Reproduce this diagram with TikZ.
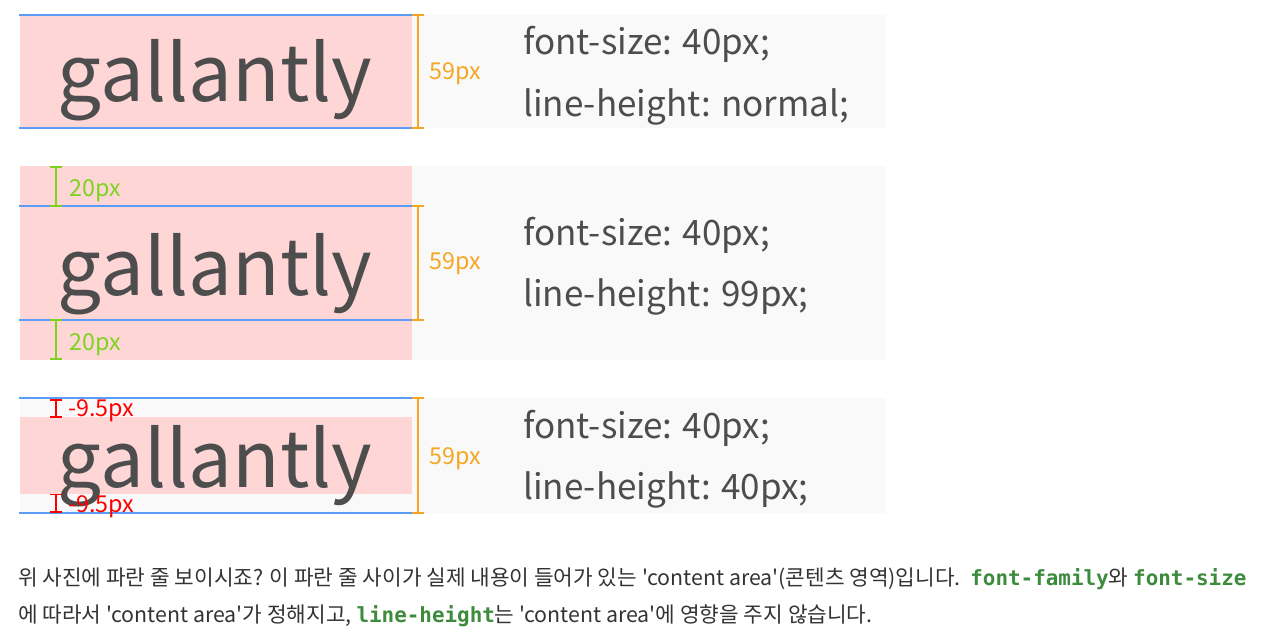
\documentclass[tikz,border=0pt]{standalone}
\usepackage{fontspec}
\newfontfamily\kr{Noto Sans CJK KR}
\newfontfamily\mono{DejaVu Sans Mono}
\definecolor{pinkbg}{HTML}{FFD6D6}
\definecolor{graybg}{HTML}{F9F9F9}
\definecolor{blueline}{HTML}{5A9CF8}
\definecolor{orangec}{HTML}{F5A623}
\definecolor{greenc}{HTML}{7ED321}
\definecolor{redc}{HTML}{FF0000}
\definecolor{txt}{HTML}{4D4D4D}
\definecolor{bodyc}{HTML}{333333}
\definecolor{codeg}{HTML}{3D8B3D}
\tikzset{
  big/.style={font=\kr\fontsize{78}{78}\selectfont, text=txt, inner sep=0pt, anchor=base west},
  css/.style={font=\kr\fontsize{35}{35}\selectfont, text=txt, inner sep=0pt, anchor=base west},
  dimlabel/.style={font=\kr\fontsize{23.3}{23.3}\selectfont, inner sep=0pt, anchor=base west},
  bodytext/.style={font=\kr\fontsize{21.35}{21.35}\selectfont, text=bodyc, inner sep=0pt, anchor=base west},
  bline/.style={draw=blueline, line width=1.5pt},
  bracket/.style={line width=1.6pt},
}
\newcommand{\cod}[1]{{\mono\fontsize{20.9}{20.9}\selectfont\bfseries\color{codeg}#1}}
\begin{document}
\begin{tikzpicture}[x=1pt,y=-1pt]
\useasboundingbox (0,0) rectangle (1262,639);
% ---------- panel 1 ----------
\fill[graybg] (412,15) rectangle (886,128);
\fill[pinkbg] (20,15) rectangle (411.5,128);
\node[big] (g1) at (57.5,101.7) {gallantly};
\draw[bline] (19,15) -- (411.5,15);
\draw[bline] (19,128) -- (411.5,128);
\draw[bracket,orangec] (412,15) -- (424,15) (418,15) -- (418,128) (412,128) -- (424,128);
\node[dimlabel,text=orangec] (o1) at (429,79.3) {59px};
\node[css] (c1a) at (523,54.5) {font-size: 40px;};
\node[css] (c1b) at (523,117) {line-height: normal;};
% ---------- panel 2 ----------
\fill[graybg] (412,166) rectangle (886,359.5);
\fill[pinkbg] (20,166) rectangle (411.5,359.5);
\node[big] (g2) at (57.5,295.5) {gallantly};
\draw[bline] (19,206) -- (411.5,206);
\draw[bline] (19,320) -- (411.5,320);
\draw[bracket,orangec] (412,206) -- (424,206) (418,206) -- (418,320) (412,320) -- (424,320);
\node[dimlabel,text=orangec] (o2) at (429,270) {59px};
\draw[bracket,greenc] (50,166.8) -- (62,166.8) (56,166.8) -- (56,206) (50,206) -- (62,206);
\draw[bracket,greenc] (50,320) -- (62,320) (56,320) -- (56,358.7) (50,358.7) -- (62,358.7);
\node[dimlabel,text=greenc] (gr1) at (69,196.7) {20px};
\node[dimlabel,text=greenc] (gr2) at (69,350) {20px};
\node[css] (c2a) at (523,246) {font-size: 40px;};
\node[css] (c2b) at (523,306.7) {line-height: 99px;};
% ---------- panel 3 ----------
\fill[graybg] (20,398) rectangle (886,513);
\fill[pinkbg] (20,416.7) rectangle (411.5,494.3);
\node[big] (g3) at (57.5,487.7) {gallantly};
\draw[bline] (19,398) -- (411.5,398);
\draw[bline] (19,513) -- (411.5,513);
\draw[bracket,orangec] (412,398) -- (424,398) (418,398) -- (418,513) (412,513) -- (424,513);
\node[dimlabel,text=orangec] (o3) at (429,464) {59px};
\draw[bracket,redc] (50,399.8) -- (62,399.8) (56,399.8) -- (56,417) (50,417) -- (62,417);
\draw[bracket,redc] (50,494.5) -- (62,494.5) (56,494.5) -- (56,512) (50,512) -- (62,512);
\node[dimlabel,text=redc] (r1) at (68,416) {-9.5px};
\node[dimlabel,text=redc] (r2) at (68,512) {-9.5px};
\node[css] (c3a) at (523,438.3) {font-size: 40px;};
\node[css] (c3b) at (523,499.3) {line-height: 40px;};
% ---------- paragraph ----------
\node[bodytext] (p1) at (18,585.5) {위 사진에 파란 줄 보이시죠? 이 파란 줄 사이가 실제 내용이 들어가 있는 'content area'(콘텐츠 영역)입니다.\ \ \cod{font-family}와 \cod{font-size}};
\node[bodytext] (p2) at (18,622) {에 따라서 'content area'가 정해지고, \cod{line-height}는 'content area'에 영향을 주지 않습니다.};
\end{tikzpicture}
\end{document}
